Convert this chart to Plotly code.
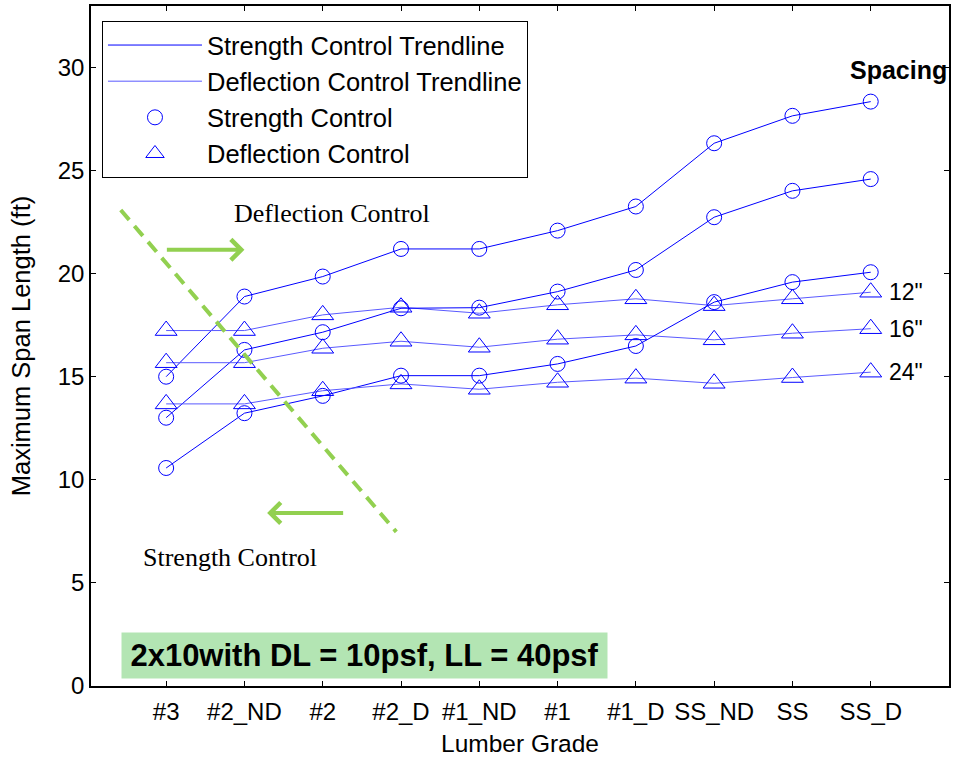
import plotly.graph_objects as go

# Lumber grades along the x axis
grades = ["#3", "#2_ND", "#2", "#2_D", "#1_ND", "#1", "#1_D", "SS_ND", "SS", "SS_D"]
positions = list(range(1, len(grades) + 1))

# Joist spacings
spacings = ['12"', '16"', '24"']

# Maximum span (ft), strength-controlled, per spacing
strength_12 = [15.01, 18.90, 19.87, 21.21, 21.21, 22.10, 23.27, 26.34, 27.67, 28.36]
strength_16 = [13.02, 16.31, 17.17, 18.33, 18.36, 19.14, 20.19, 22.75, 24.03, 24.60]
strength_24 = [10.58, 13.24, 14.08, 15.06, 15.06, 15.63, 16.50, 18.63, 19.60, 20.08]

# Maximum span (ft), deflection-controlled, per spacing
deflection_12 = [17.25, 17.25, 18.01, 18.38, 18.09, 18.50, 18.79, 18.46, 18.79, 19.11]
deflection_16 = [15.69, 15.69, 16.39, 16.73, 16.44, 16.83, 17.04, 16.80, 17.12, 17.34]
deflection_24 = [13.69, 13.69, 14.33, 14.66, 14.40, 14.74, 14.94, 14.69, 14.97, 15.23]

strength = [strength_12, strength_16, strength_24]
deflection = [deflection_12, deflection_16, deflection_24]

y_ticks = [0, 5, 10, 15, 20, 25, 30]

BLUE = "#0000ff"
LIGHT_BLUE = "#5a5aff"
GREEN = "#92d050"
SANS = "Liberation Sans, Arial, Helvetica, sans-serif"
SERIF = "Liberation Serif, Times New Roman, serif"

fig = go.Figure()

for i in range(len(spacings)):
    fig.add_trace(go.Scatter(
        x=positions, y=strength[i], mode="lines",
        line=dict(color=BLUE, width=1),
        name="Strength Control Trendline", legendgroup="s_line", legendrank=1,
        showlegend=(i == 0), hoverinfo="skip"))
    fig.add_trace(go.Scatter(
        x=positions, y=deflection[i], mode="lines",
        line=dict(color=LIGHT_BLUE, width=1),
        name="Deflection Control Trendline", legendgroup="d_line", legendrank=2,
        showlegend=(i == 0), hoverinfo="skip"))

for i in range(len(spacings)):
    fig.add_trace(go.Scatter(
        x=positions, y=strength[i], mode="markers",
        marker=dict(symbol="circle-open", size=15, color=BLUE, line=dict(width=1, color=BLUE)),
        name="Strength Control", legendgroup="s_mark", legendrank=3,
        showlegend=(i == 0)))
    fig.add_trace(go.Scatter(
        x=positions, y=deflection[i], mode="markers",
        marker=dict(symbol="triangle-up-open", size=19, color=BLUE, line=dict(width=1, color=BLUE)),
        name="Deflection Control", legendgroup="d_mark", legendrank=4,
        showlegend=(i == 0)))

# Dashed divider between the deflection- and strength-controlled regions
fig.add_shape(type="line", xref="x", yref="y", x0=0.42, y0=23.1, x1=3.94, y1=7.48,
              line=dict(color=GREEN, width=4, dash="13px,8px"))

annotations = []
# Direction arrows
annotations.append(dict(x=2.0, y=21.17, ax=0.99, ay=21.17, xref="x", yref="y", axref="x", ayref="y",
                        text="", showarrow=True, arrowhead=4, arrowwidth=4, arrowsize=1,
                        arrowcolor=GREEN, standoff=0))
annotations.append(dict(x=2.29, y=8.40, ax=3.28, ay=8.40, xref="x", yref="y", axref="x", ayref="y",
                        text="", showarrow=True, arrowhead=4, arrowwidth=4, arrowsize=1,
                        arrowcolor=GREEN, standoff=0))
annotations.append(dict(x=3.12, y=22.91, xref="x", yref="y", text="Deflection Control", showarrow=False,
                        font=dict(family=SERIF, size=26, color="black")))
annotations.append(dict(x=1.82, y=6.26, xref="x", yref="y", text="Strength Control", showarrow=False,
                        font=dict(family=SERIF, size=26, color="black")))

# Spacing labels at the right-hand end of each deflection line
for i, lab in enumerate(spacings):
    annotations.append(dict(x=10.21, y=deflection[i][-1], xref="x", yref="y", text=lab,
                            showarrow=False, xanchor="left", yanchor="middle",
                            font=dict(family=SANS, size=23, color="black")))
annotations.append(dict(x=9.71, y=29.9, xref="x", yref="y", text="<b>Spacing</b>",
                        showarrow=False, xanchor="left", yanchor="middle",
                        font=dict(family=SANS, size=25, color="black")))

# Load case box
annotations.append(dict(x=0.3192, y=0.0449, xref="paper", yref="paper",
                        text="<b>2x10with DL = 10psf, LL = 40psf</b>", showarrow=False,
                        xanchor="center", yanchor="middle", bgcolor="#b3e5b3",
                        width=477, height=37, borderpad=4,
                        font=dict(family=SANS, size=31, color="black")))

fig.update_layout(
    width=954, height=759, autosize=False,
    margin=dict(l=91, r=3, t=6, b=73),
    paper_bgcolor="white", plot_bgcolor="white",
    font=dict(family=SANS, color="black"),
    annotations=annotations,
    showlegend=True,
    legend=dict(x=0.0128, y=0.978, xanchor="left", yanchor="top",
                bgcolor="white", bordercolor="black", borderwidth=1,
                font=dict(family=SANS, size=25.5, color="black"),
                itemwidth=94, tracegroupgap=8, traceorder="normal"),
    xaxis=dict(range=[0.04, 11.0], tickmode="array", tickvals=positions, ticktext=grades,
               ticks="inside", ticklen=5, tickcolor="black", showline=True, linecolor="black",
               linewidth=1.5, mirror="ticks", showgrid=False, zeroline=False,
               ticklabelstandoff=3,
               tickfont=dict(family=SANS, size=24, color="black"),
               title=dict(text="Lumber Grade", font=dict(family=SANS, size=24.5, color="black"),
                          standoff=11)),
    yaxis=dict(range=[0, 33], tickmode="array", tickvals=y_ticks,
               ticks="inside", ticklen=5, tickcolor="black", showline=True, linecolor="black",
               linewidth=1.5, mirror="ticks", showgrid=False, zeroline=False,
               tickfont=dict(family=SANS, size=24, color="black"),
               title=dict(text="Maximum Span Length (ft)", font=dict(family=SANS, size=25.5, color="black"),
                          standoff=20)),
)

fig.write_html("out.html")
